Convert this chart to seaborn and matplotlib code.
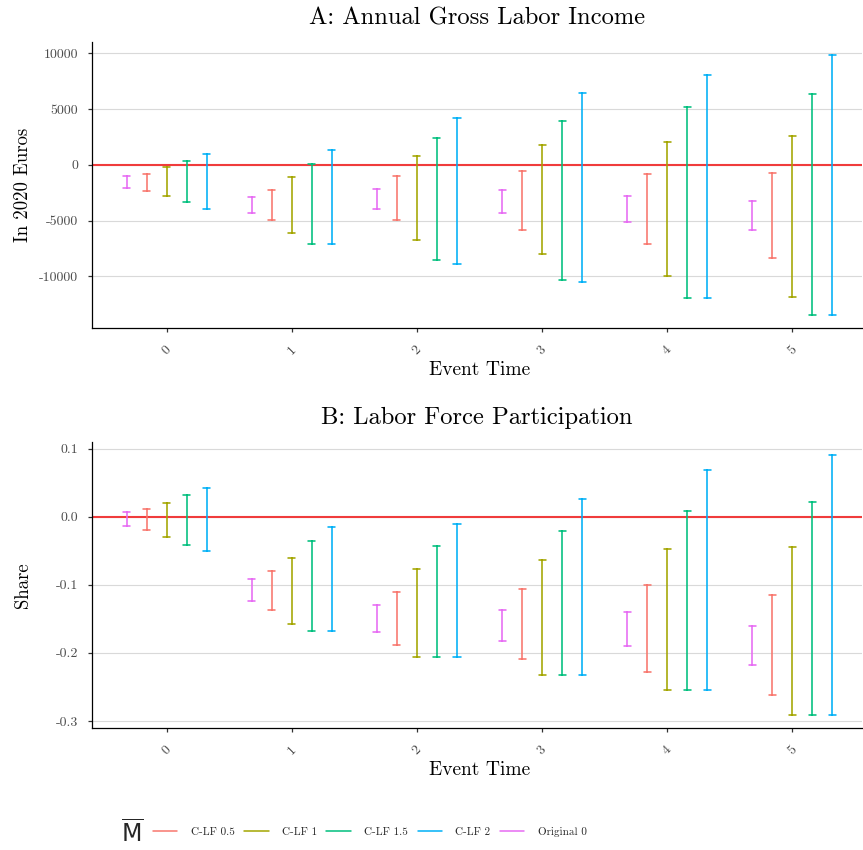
import matplotlib
matplotlib.use("Agg")
import matplotlib.pyplot as plt
from matplotlib.lines import Line2D
import seaborn as sns
import pandas as pd

# Event times on the x axis
EVENTS = [0, 1, 2, 3, 4, 5]

# Series, in the order they are dodged from left to right
SERIES = ["Original 0", "C-LF 0.5", "C-LF 1", "C-LF 1.5", "C-LF 2"]
LEGEND_ORDER = ["C-LF 0.5", "C-LF 1", "C-LF 1.5", "C-LF 2", "Original 0"]
COLORS = {
    "C-LF 0.5": "#F8766D",
    "C-LF 1": "#A3A500",
    "C-LF 1.5": "#00BF7D",
    "C-LF 2": "#00B0F6",
    "Original 0": "#E76BF3",
}

# Panel A: annual gross labor income, interval bounds (2020 euros)
INCOME_LO = {
    "Original 0": [-2050, -4310, -3930, -4310, -5150, -5860],
    "C-LF 0.5":   [-2320, -4970, -4940, -5860, -7110, -8300],
    "C-LF 1":     [-2800, -6100, -6730, -7980, -10000, -11820],
    "C-LF 1.5":   [-3330, -7110, -8510, -10300, -11900, -13450],
    "C-LF 2":     [-3960, -7110, -8900, -10540, -11900, -13450],
}
INCOME_HI = {
    "Original 0": [-1010, -2920, -2170, -2260, -2770, -3240],
    "C-LF 0.5":   [-770, -2260, -1010, -540, -830, -680],
    "C-LF 1":     [-150, -1070, 770, 1790, 2020, 2560],
    "C-LF 1.5":   [360, 60, 2380, 3930, 5150, 6400],
    "C-LF 2":     [950, 1340, 4200, 6490, 8040, 9880],
}

# Panel B: labor force participation, interval bounds (share)
LFP_LO = {
    "Original 0": [-0.013, -0.124, -0.170, -0.182, -0.190, -0.218],
    "C-LF 0.5":   [-0.019, -0.137, -0.189, -0.209, -0.228, -0.262],
    "C-LF 1":     [-0.029, -0.157, -0.206, -0.233, -0.254, -0.291],
    "C-LF 1.5":   [-0.041, -0.168, -0.206, -0.233, -0.254, -0.291],
    "C-LF 2":     [-0.051, -0.168, -0.206, -0.233, -0.254, -0.291],
}
LFP_HI = {
    "Original 0": [0.007, -0.091, -0.129, -0.137, -0.140, -0.160],
    "C-LF 0.5":   [0.011, -0.080, -0.111, -0.106, -0.100, -0.115],
    "C-LF 1":     [0.020, -0.060, -0.077, -0.063, -0.048, -0.044],
    "C-LF 1.5":   [0.032, -0.035, -0.043, -0.021, 0.008, 0.021],
    "C-LF 2":     [0.042, -0.015, -0.010, 0.026, 0.069, 0.091],
}

INCOME_TICKS = [-10000, -5000, 0, 5000, 10000]
LFP_TICKS = [-0.3, -0.2, -0.1, 0.0, 0.1]
LFP_TICK_LABELS = ["-0.3", "-0.2", "-0.1", "0.0", "0.1"]


def long_frame(lo, hi):
    rows = []
    for s in SERIES:
        for i, e in enumerate(EVENTS):
            rows.append({"event": e, "series": s, "value": lo[s][i]})
            rows.append({"event": e, "series": s, "value": hi[s][i]})
    return pd.DataFrame(rows)


sns.set_theme(style="white")
plt.rcParams["font.family"] = ["cmr10", "DejaVu Serif"]
plt.rcParams["axes.unicode_minus"] = False
plt.rcParams["mathtext.fontset"] = "cm"

fig = plt.figure(figsize=(8.63, 8.5), dpi=100)
W, H = 863, 850
left_px, right_px = 92.3, 862
left = left_px / W
width = (right_px - left_px) / W
axA = fig.add_axes([left, 1 - 328 / H, width, (328 - 41.7) / H])
axB = fig.add_axes([left, 1 - 728 / H, width, (728 - 441.7) / H])


def draw_panel(ax, df, title, ylabel, ticks, ticklabels, ylim):
    ax.yaxis.grid(True, color="#D9D9D9", linewidth=0.8)
    ax.xaxis.grid(False)
    ax.set_axisbelow(True)
    ax.axhline(0, color="#F03C3C", linewidth=1.5, zorder=1)
    sns.pointplot(
        data=df, x="event", y="value", hue="series", hue_order=SERIES,
        palette=COLORS, dodge=0.64, errorbar=("pi", 100), estimator="mean",
        marker="", linestyle="none", capsize=0.056,
        err_kws={"linewidth": 1.15}, legend=False, ax=ax,
    )
    ax.set_xlim(-0.594, 5.556)
    ax.set_ylim(*ylim)
    ax.set_yticks(ticks)
    ax.set_yticklabels(ticklabels)
    ax.set_xticks(range(len(EVENTS)))
    ax.set_xticklabels([str(e) for e in EVENTS], rotation=45, ha="center", va="top")
    ax.set_title(title, fontsize=17.7, pad=12.5, color="black")
    ax.set_xlabel("Event Time", fontsize=14, color="black")
    ax.set_ylabel(ylabel, fontsize=13.5, color="black")
    bbox = ax.get_position()
    ax.yaxis.set_label_coords((32 - left_px) / (right_px - left_px), 0.5)
    ax.xaxis.set_label_coords(0.503, -33 / (bbox.height * H))
    for side in ["top", "right"]:
        ax.spines[side].set_visible(False)
    for side in ["left", "bottom"]:
        ax.spines[side].set_color("black")
        ax.spines[side].set_linewidth(0.9)
    ax.tick_params(axis="y", which="major", length=3, width=0.9,
                   color="#333333", labelsize=10, labelcolor="#4D4D4D",
                   left=True, pad=7)
    ax.tick_params(axis="x", which="major", length=3, width=0.9,
                   color="#333333", labelsize=10, labelcolor="#4D4D4D",
                   bottom=True, pad=8.5)


draw_panel(axA, long_frame(INCOME_LO, INCOME_HI), "A: Annual Gross Labor Income",
           "In 2020 Euros", INCOME_TICKS, [str(t) for t in INCOME_TICKS],
           (-14619, 11047))
draw_panel(axB, long_frame(LFP_LO, LFP_HI), "B: Labor Force Participation",
           "Share", LFP_TICKS, LFP_TICK_LABELS, (-0.3103, 0.1103))

handles = [Line2D([0], [0], color=COLORS[s], linewidth=1.1) for s in LEGEND_ORDER]
fig.legend(handles, LEGEND_ORDER, loc="center left",
           bbox_to_anchor=(153 / W, 1 - 832 / H), ncol=5, frameon=False,
           fontsize=8, handlelength=2.2, handletextpad=1.2, columnspacing=0.85,
           borderpad=0, borderaxespad=0)
fig.text(132 / W, 1 - 834 / H, r"$\overline{\mathsf{M}}$", fontsize=17,
         ha="center", va="center", math_fontfamily="dejavusans")

fig.savefig("out.png", dpi=100)
